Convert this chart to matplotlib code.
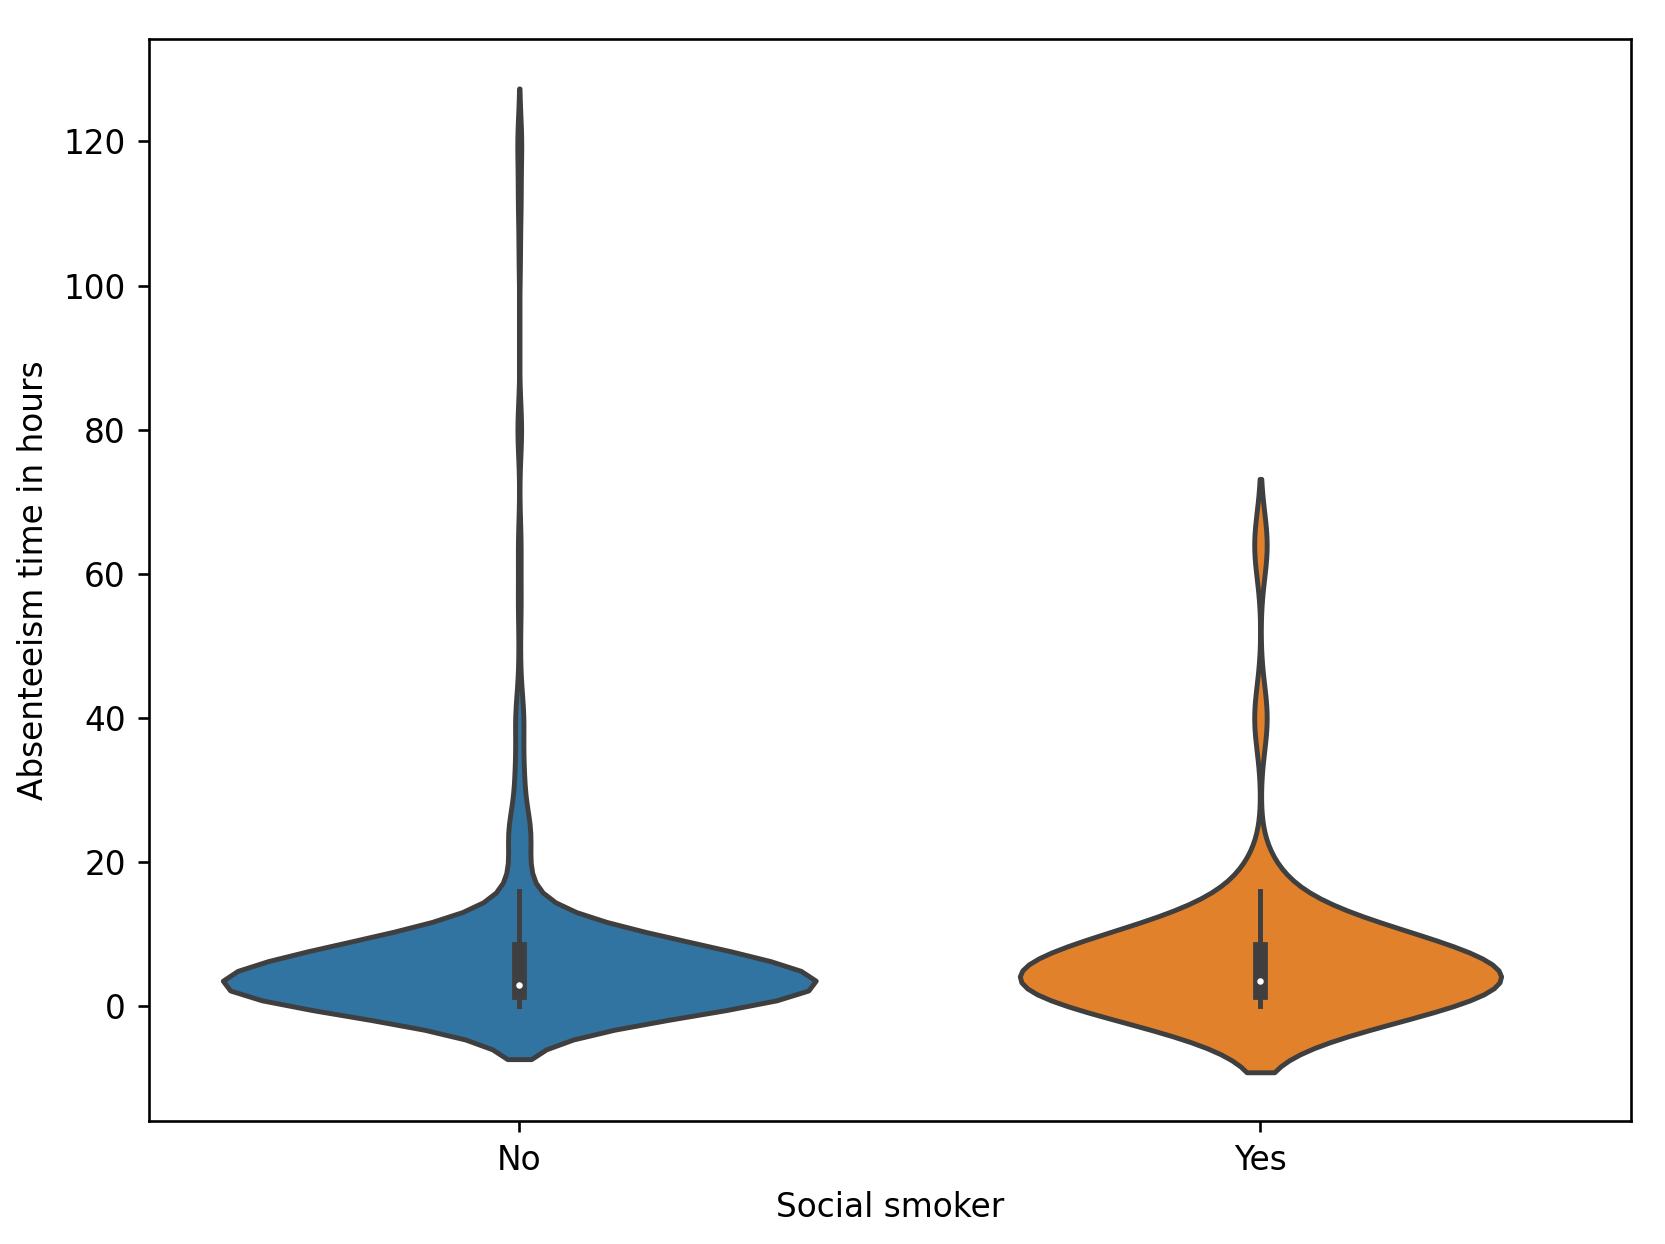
import numpy as np
import matplotlib
matplotlib.use("Agg")
import matplotlib.pyplot as plt

# ---- data (value counts of absenteeism hours per group) ----
categories = ["No", "Yes"]
hour_values = [0, 1, 2, 3, 4, 5, 7, 8, 16, 24, 32, 40, 48, 56, 64, 80, 104, 112, 120]
counts_no = [34, 85, 151, 104, 58, 6, 1, 189, 16, 16, 6, 6, 1, 2, 2, 3, 1, 2, 3]
counts_yes = [10, 3, 6, 8, 2, 1, 0, 19, 3, 0, 0, 1, 0, 0, 1, 0, 0, 0, 0]
fill_colors = ["#3274a1", "#e1812c"]
x_label = "Social smoker"
y_label = "Absenteeism time in hours"

gray = "#3f3f3f"
lw = 1.5


def kde(data, gridsize=100, cut=2):
    n = len(data)
    bw = n ** (-1 / 5) * data.std(ddof=1)
    support = np.linspace(data.min() - cut * bw, data.max() + cut * bw, gridsize)
    dens = np.exp(-0.5 * ((support[:, None] - data[None, :]) / bw) ** 2).sum(1)
    dens /= n * bw * np.sqrt(2 * np.pi)
    return support, dens


groups = [np.repeat(hour_values, counts_no).astype(float),
          np.repeat(hour_values, counts_yes).astype(float)]
kdes = [kde(g) for g in groups]
max_d = max(d.max() for _, d in kdes)

fig = plt.figure(figsize=(1665 / 236, 1244.03 / 236), dpi=236)
ax = fig.add_axes([0.0893, 0.0985, 0.9796 - 0.0893, 0.9684 - 0.0985])

for i, (g, (sup, dens)) in enumerate(zip(groups, kdes)):
    half = dens / max_d * 0.4
    ax.fill_betweenx(sup, i - half, i + half, facecolor=fill_colors[i],
                     edgecolor=gray, linewidth=lw)
    q25, q50, q75 = np.percentile(g, [25, 50, 75])
    wl = 1.5 * (q75 - q25)
    h1 = g[g >= q25 - wl].min()
    h2 = g[g <= q75 + wl].max()
    ax.plot([i, i], [h1, h2], linewidth=lw, color=gray)
    ax.plot([i, i], [q25, q75], linewidth=lw * 3, color=gray)
    ax.scatter(i, q50, zorder=3, color="white", edgecolor=gray, s=(lw * 2) ** 2)

ax.set_xticks(range(len(categories)))
ax.set_xticklabels(categories)
ax.set_xlim(-0.5, len(categories) - 0.5)
ax.set_xlabel(x_label)
ax.set_ylabel(y_label)

fig.savefig("out.png", dpi=236)
